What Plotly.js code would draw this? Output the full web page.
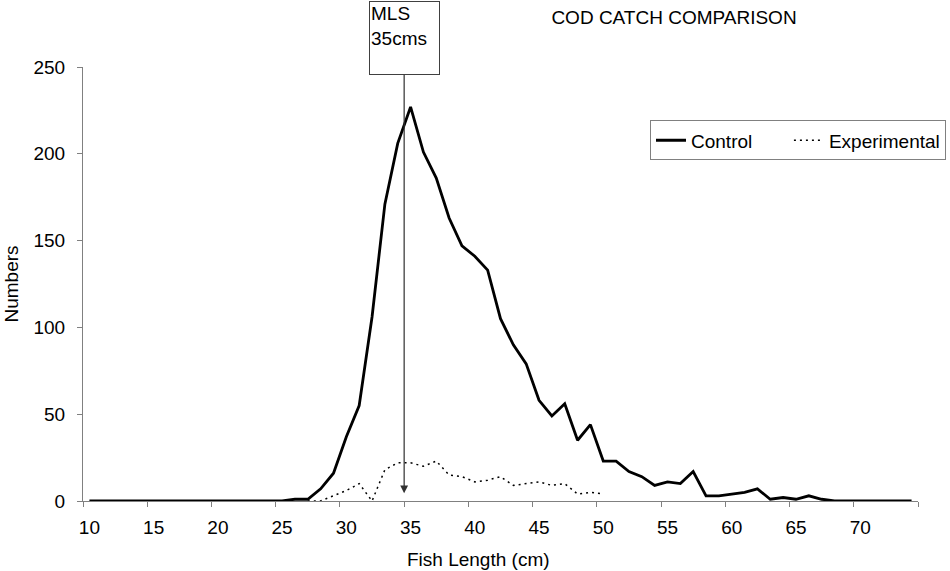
<!DOCTYPE html>
<html>
<head>
<meta charset="utf-8">
<script src="https://cdn.plot.ly/plotly-3.0.1.min.js"></script>
<style>html,body{margin:0;padding:0;background:#fff;}#chart{width:950px;height:571px;}</style>
</head>
<body>
<div id="chart"></div>
<script>
// Fish length categories (cm)
const lengths = [];
for (let c = 10; c <= 74; c++) lengths.push(c);

// Control catch numbers for 10..74 cm
const controlNumbers = [
  0, 0, 0, 0, 0, 0, 0, 0, 0, 0,        // 10-19
  0, 0, 0, 0, 0, 0, 1, 1, 7, 16,       // 20-29
  37, 55, 106, 171, 206, 227, 201, 186, 163, 147, // 30-39
  141, 133, 105, 90, 79, 58, 49, 56, 35, 44,      // 40-49
  23, 23, 17, 14, 9, 11, 10, 17, 3, 3,            // 50-59
  4, 5, 7, 1, 2, 1, 3, 1, 0, 0,                    // 60-69
  0, 0, 0, 0, 0                                     // 70-74
];

// Experimental catch numbers for 27..50 cm
const experimentalLengths = [27, 28, 29, 30, 31, 32, 33, 34, 35, 36, 37, 38, 39, 40, 41, 42, 43, 44, 45, 46, 47, 48, 49, 50];
const experimentalNumbers = [0, 0, 3, 6, 10, 0, 18, 22, 22, 20, 23, 15, 14, 11, 12, 14, 9, 10, 11, 9, 10, 4, 5, 4];

// Axis tick labels
const xTickLabels = [10, 15, 20, 25, 30, 35, 40, 45, 50, 55, 60, 65, 70];
const yTickValues = [0, 50, 100, 150, 200, 250];

const FONT = 'Liberation Sans, Arial, sans-serif';
const FS = 19;
const PAD = '\u00a0\u00a0\u00a0\u00a0\u00a0\u00a0';

const traces = [
  {
    x: lengths, y: controlNumbers, name: 'Control' + PAD, type: 'scatter', mode: 'lines',
    line: {color: '#000000', width: 2.8}, cliponaxis: false
  },
  {
    x: experimentalLengths, y: experimentalNumbers, name: 'Experimental', type: 'scatter', mode: 'lines',
    line: {color: '#000000', width: 1.5, dash: '2px,4px'}, cliponaxis: false
  }
];

const layout = {
  width: 950, height: 571,
  margin: {l: 83, r: 32, t: 67, b: 70, pad: 0, autoexpand: false},
  paper_bgcolor: '#ffffff', plot_bgcolor: '#ffffff',
  font: {family: FONT, size: FS, color: '#000000'},
  showlegend: true,
  title: {
    text: 'COD CATCH COMPARISON', font: {family: FONT, size: FS, color: '#000'},
    x: 674 / 950, xref: 'container', xanchor: 'center',
    y: 1 - 17 / 571, yref: 'container', yanchor: 'middle'
  },
  xaxis: {
    range: [9.5, 74.5], showgrid: false, zeroline: false,
    showline: true, linecolor: '#808080', linewidth: 1,
    tickmode: 'array', tickvals: xTickLabels, ticktext: xTickLabels.map(String),
    ticks: '', ticklabelstandoff: 9, automargin: false,
    minor: {tickmode: 'linear', tick0: 9.5, dtick: 5, ticks: 'outside', ticklen: 5, tickcolor: '#808080', tickwidth: 1, showgrid: false},
    layer: 'below traces'
  },
  yaxis: {
    range: [0, 250], showgrid: false, zeroline: false,
    showline: true, linecolor: '#808080', linewidth: 1,
    tickmode: 'array', tickvals: yTickValues, automargin: false,
    ticks: 'outside', ticklen: 5, tickcolor: '#808080', ticklabelstandoff: 8,
    layer: 'below traces',
    title: {text: 'Numbers', font: {family: FONT, size: FS}, standoff: 9}
  },
  legend: {
    orientation: 'h', x: (946 - 83) / 835, y: 0.877, xanchor: 'right', yanchor: 'top',
    bgcolor: '#ffffff', bordercolor: '#808080', borderwidth: 1,
    font: {family: FONT, size: FS}, tracegroupgap: 0, itemwidth: 30
  },
  annotations: [
    {
      x: 34.5, y: 4.5, xref: 'x', yref: 'y',
      text: 'MLS<br>35cms', align: 'left', valign: 'top',
      width: 67, height: 70, borderpad: 1, borderwidth: 1, bordercolor: '#404040', bgcolor: '#ffffff',
      font: {family: FONT, size: FS, color: '#000'},
      showarrow: true, arrowhead: 2, arrowsize: 1.3, arrowwidth: 1.2, arrowcolor: '#303030',
      ax: 0, ay: -455, axref: 'pixel', ayref: 'pixel'
    },
    {
      text: 'Fish Length (cm)', showarrow: false,
      xref: 'paper', yref: 'paper', x: (478 - 83) / 835, y: -(559 - 501) / 434,
      xanchor: 'center', yanchor: 'middle',
      font: {family: FONT, size: FS, color: '#000'}
    }
  ]
};

Plotly.newPlot('chart', traces, layout, {displayModeBar: false, staticPlot: true});
</script>
</body>
</html>
